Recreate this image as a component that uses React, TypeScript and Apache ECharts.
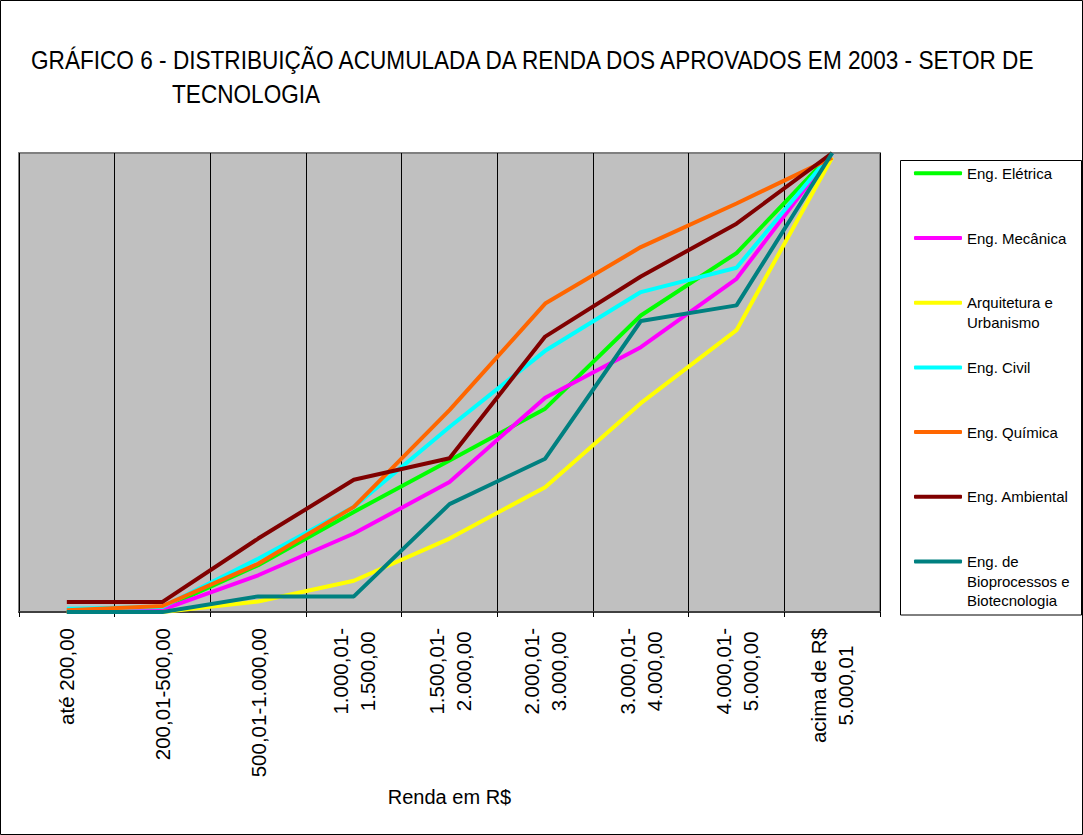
import React, { useEffect, useRef } from "react";
import * as echarts from "echarts";

const categories = [
  "até 200,00",
  "200,01-500,00",
  "500,01-1.000,00",
  "1.000,01-\n1.500,00",
  "1.500,01-\n2.000,00",
  "2.000,01-\n3.000,00",
  "3.000,01-\n4.000,00",
  "4.000,01-\n5.000,00",
  "acima de R$\n5.000,01",
];

const seriesNames = [
  "Eng. Elétrica",
  "Eng. Mecânica",
  "Arquitetura e Urbanismo",
  "Eng. Civil",
  "Eng. Química",
  "Eng. Ambiental",
  "Eng. de Bioprocessos e Biotecnologia",
];

const legendLabels = [
  "Eng. Elétrica",
  "Eng. Mecânica",
  "Arquitetura e\nUrbanismo",
  "Eng. Civil",
  "Eng. Química",
  "Eng. Ambiental",
  "Eng. de\nBioprocessos e\nBiotecnologia",
];

const colors = ["#00FF00", "#FF00FF", "#FFFF00", "#00FFFF", "#FF6600", "#800000", "#008080"];

const eletrica = [0, 0.008, 0.102, 0.218, 0.33, 0.443, 0.646, 0.782, 1];
const mecanica = [0, 0.005, 0.08, 0.171, 0.283, 0.467, 0.577, 0.726, 1];
const arquitetura = [0, 0, 0.023, 0.068, 0.16, 0.272, 0.455, 0.614, 0.99];
const civil = [0.007, 0.011, 0.116, 0.229, 0.403, 0.569, 0.697, 0.75, 1];
const quimica = [0.004, 0.013, 0.105, 0.229, 0.44, 0.672, 0.795, 0.89, 0.99];
const ambiental = [0.022, 0.022, 0.16, 0.288, 0.335, 0.6, 0.731, 0.846, 1];
const bioprocessos = [0, 0, 0.034, 0.034, 0.235, 0.334, 0.634, 0.668, 1];

const seriesValues = [eletrica, mecanica, arquitetura, civil, quimica, ambiental, bioprocessos];

const titleLine1 = "GRÁFICO 6 - DISTRIBUIÇÃO ACUMULADA DA RENDA DOS APROVADOS EM 2003 - SETOR DE";
const titleLine2 = "TECNOLOGIA";
const axisName = "Renda em R$";

const FONT = "'Liberation Sans', Arial, Helvetica, sans-serif";

export default function App() {
  const ref = useRef<HTMLDivElement>(null);

  useEffect(() => {
    document.body.style.margin = "0";
    if (!ref.current) return;
    const chart = echarts.init(ref.current, null, { renderer: "svg" });

    const lh = 19.5;
    const titleScale = 0.904;

    const option: any = {
      animation: false,
      backgroundColor: "#FFFFFF",
      grid: {
        left: 19,
        right: 203,
        top: 153,
        bottom: 223,
        show: true,
        backgroundColor: "#C0C0C0",
        borderColor: "#808080",
        borderWidth: 2,
      },
      graphic: [
        {
          type: "rect",
          z: 0,
          shape: { x: 0.5, y: 0.5, width: 1082, height: 834 },
          style: { fill: "none", stroke: "#000", lineWidth: 1 },
          silent: true,
        },
        {
          type: "rect",
          z: 0,
          shape: { x: 900.5, y: 160.5, width: 181, height: 454.5 },
          style: { fill: "#FFFFFF", stroke: "#000", lineWidth: 1 },
          silent: true,
        },
        {
          type: "text",
          x: 31,
          y: 59.7,
          scaleX: titleScale,
          z: 5,
          style: {
            text: titleLine1,
            fontSize: 25,
            fontFamily: FONT,
            fill: "#000",
            align: "left",
            verticalAlign: "middle",
          },
        },
        {
          type: "text",
          x: 172,
          y: 93.8,
          scaleX: titleScale,
          z: 5,
          style: {
            text: titleLine2,
            fontSize: 25,
            fontFamily: FONT,
            fill: "#000",
            align: "left",
            verticalAlign: "middle",
          },
        },
      ],
      legend: {
        orient: "vertical",
        left: 914,
        top: 173.3 - 2.5 * lh,
        padding: 0,
        z: 10,
        itemWidth: 48,
        itemHeight: 4,
        itemGap: 64.7 - 5 * lh,
        icon: "roundRect",
        data: seriesNames,
        textStyle: { fontSize: 15, fontFamily: FONT, color: "#000", lineHeight: lh },
        formatter: (name: string) => {
          const i = seriesNames.indexOf(name);
          const label = legendLabels[i];
          const k = label.split("\n").length;
          return "\n\n" + label + "\n".repeat(3 - k);
        },
      },
      xAxis: {
        type: "category",
        data: categories,
        boundaryGap: true,
        axisLine: { show: true, lineStyle: { color: "#404040", width: 2 } },
        axisTick: { show: true, length: 5, lineStyle: { color: "#000", width: 1 } },
        splitLine: { show: true, lineStyle: { color: "#000", width: 1 } },
        axisLabel: {
          interval: 0,
          rotate: 90,
          margin: 16,
          fontSize: 20.5,
          fontFamily: FONT,
          color: "#000",
          lineHeight: 27,
          formatter: (v: string) =>
            v
              .split("\n")
              .map((l) => `{c|${l}}`)
              .join("\n"),
          rich: {
            c: { align: "center", fontSize: 20.5, lineHeight: 27, fontFamily: FONT, color: "#000" },
          },
        },
        name: axisName,
        nameLocation: "middle",
        nameGap: 185,
        nameTextStyle: { fontSize: 20, fontFamily: FONT, color: "#000", verticalAlign: "middle" },
      },
      yAxis: {
        type: "value",
        min: 0,
        max: 1,
        show: false,
        splitLine: { show: false },
      },
      series: seriesNames.map((name, i) => ({
        name,
        type: "line",
        data: seriesValues[i],
        color: colors[i],
        symbol: "none",
        showSymbol: false,
        lineStyle: { width: 4, color: colors[i] },
        z: 3 + i,
      })),
    };

    chart.setOption(option);
    return () => chart.dispose();
  }, []);

  return <div ref={ref} style={{ width: 1083, height: 835 }} />;
}
